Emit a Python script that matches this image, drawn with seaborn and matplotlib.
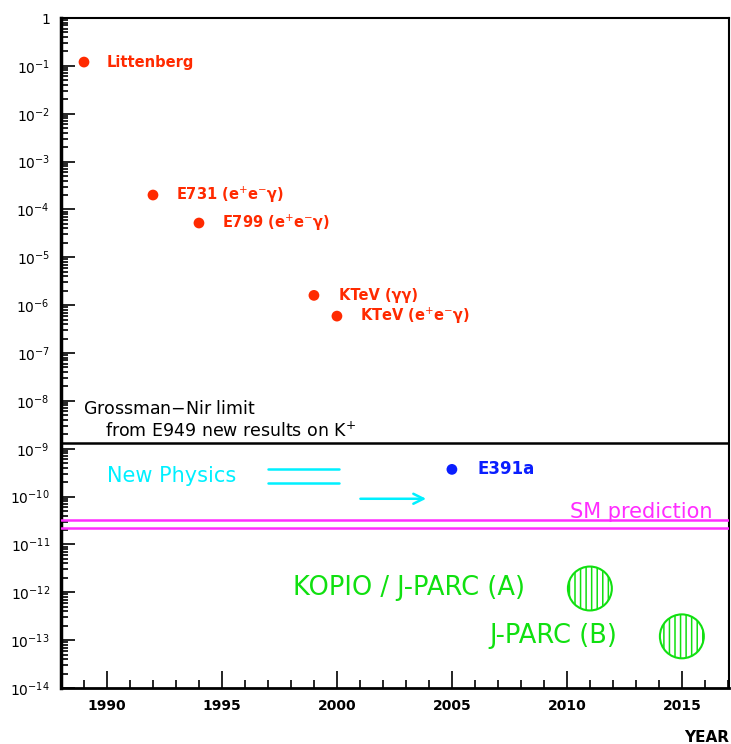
import matplotlib
matplotlib.use("Agg")
import matplotlib.pyplot as plt
import matplotlib.ticker as mticker
import numpy as np
import pandas as pd
import seaborn as sns

# Measured upper limits on the branching ratio, by year
exp_names = ["Littenberg", "E731 (e$^{+}$e$^{-}$γ)", "E799 (e$^{+}$e$^{-}$γ)",
             "KTeV (γγ)", "KTeV (e$^{+}$e$^{-}$γ)"]
exp_years = [1989, 1992, 1994, 1999, 2000]
exp_limits = [1.2e-1, 2.0e-4, 5.2e-5, 1.6e-6, 5.9e-7]

e391_year = [2005]
e391_limit = [3.7e-10]

# Projected sensitivities
future_names = ["KOPIO / J-PARC (A)", "J-PARC (B)"]
future_years = [2011, 2015]
future_sens = [1.2e-12, 1.2e-13]

# Reference levels
grossman_nir = 1.3e-9
sm_band = [2.2e-11, 3.3e-11]
new_physics_levels = [3.8e-10, 1.95e-10]

year_ticks = [1990, 1995, 2000, 2005, 2010, 2015]
decade_ticks = [10.0 ** k for k in range(-14, 1)]

sns.set_theme(style="white")
plt.rcParams["font.family"] = ["DejaVu Sans"]
plt.rcParams["text.color"] = "black"
plt.rcParams["xtick.color"] = "black"
plt.rcParams["ytick.color"] = "black"
plt.rcParams["hatch.linewidth"] = 1.1

fig = plt.figure(figsize=(7.31, 7.44), dpi=100)
ax = fig.add_axes([61 / 731, 56 / 744, 668 / 731, 670 / 744])

red = "#ff2a00"
blue = "#0a1eff"
cyan = "#00f0ff"
magenta = "#ff2cff"
green = "#10e010"

df = pd.DataFrame({"year": exp_years, "limit": exp_limits, "name": exp_names})
sns.scatterplot(data=df, x="year", y="limit", ax=ax, color=red, s=60,
                edgecolor="none", zorder=5)
sns.scatterplot(x=e391_year, y=e391_limit, ax=ax, color=blue, s=60,
                edgecolor="none", zorder=5)

# Hatched discs for the projected sensitivities
ax.scatter(future_years, future_sens, s=1000, facecolor="white",
           edgecolor=green, hatch="|||", linewidth=1.5, zorder=4)

# Text labels next to each measurement
label_dx = [1.0, 1.0, 1.0, 1.1, 1.0]
for name, yr, lim, dx in zip(exp_names, exp_years, exp_limits, label_dx):
    ax.text(yr + dx, lim, name, color=red, fontsize=10.5, va="center",
            ha="left", fontweight="bold")
ax.text(e391_year[0] + 1.1, e391_limit[0], "E391a", color=blue, fontsize=12,
        va="center", ha="left", fontweight="bold")

future_text_x = [1998.1, 2006.65]
for name, tx, lvl in zip(future_names, future_text_x, future_sens):
    ax.text(tx, lvl, name, color=green, fontsize=18.5, va="center", ha="left")

# Grossman-Nir bound
ax.axhline(grossman_nir, color="black", lw=1.8, zorder=3)
ax.text(1988.95, 10 ** -8.17, "Grossman$-$Nir limit", fontsize=12.5,
        color="black", va="center", ha="left")
ax.text(1989.9, 10 ** -8.63, "from E949 new results on K$^{+}$", fontsize=12.5,
        color="black", va="center", ha="left")

# Standard Model prediction band
for lvl in sm_band:
    ax.axhline(lvl, color=magenta, lw=1.8, zorder=3)
ax.text(2016.35, 10 ** -10.33, "SM prediction", color=magenta, fontsize=15,
        va="center", ha="right")

# New physics region marker
for lvl in new_physics_levels:
    ax.plot([1997.0, 2000.1], [lvl, lvl], color=cyan, lw=1.8)
ax.annotate("", xy=(2004.0, 9e-11), xytext=(2000.9, 9e-11),
            arrowprops=dict(arrowstyle="->", color=cyan, lw=1.8,
                            mutation_scale=18))
ax.text(1990.0, 10 ** -9.58, "New Physics", color=cyan, fontsize=15,
        va="center", ha="left")

# Axes: log scale in BR, years along x
ax.set_yscale("log")
ax.set_xlim(1988.0, 2017.05)
ax.set_ylim(1e-14, 1.0)
ax.set_xticks(year_ticks)
ax.set_xticklabels([str(y) for y in year_ticks], fontsize=10, fontweight="bold")
ax.xaxis.set_minor_locator(mticker.MultipleLocator(1))
ax.set_yticks(decade_ticks)
ylabels = ["$10^{%d}$" % k for k in range(-14, 0)] + ["1"]
ax.set_yticklabels(ylabels, fontsize=10)
ax.yaxis.set_minor_locator(mticker.LogLocator(base=10, subs=np.arange(2, 10),
                                              numticks=100))
ax.yaxis.set_minor_formatter(mticker.NullFormatter())
ax.tick_params(axis="x", which="major", direction="in", length=12, width=1.2,
               pad=8, bottom=True, top=False, colors="black")
ax.tick_params(axis="x", which="minor", direction="in", length=6, width=1.2,
               bottom=True, top=False, colors="black")
ax.tick_params(axis="y", which="major", direction="in", length=10, width=1.2,
               pad=8, left=True, right=False, colors="black")
ax.tick_params(axis="y", which="minor", direction="in", length=5, width=1.2,
               left=True, right=False, colors="black")
ax.set_xlabel("")
ax.set_ylabel("")
for sp in ax.spines.values():
    sp.set_color("black")
    sp.set_linewidth(1.5)
ax.spines["left"].set_linewidth(2.5)
ax.spines["bottom"].set_linewidth(2.0)

fig.text(729 / 731, 1 - 737 / 744, "YEAR", fontsize=11, fontweight="bold",
         color="black", ha="right", va="center")

fig.savefig("out.png", dpi=100)
